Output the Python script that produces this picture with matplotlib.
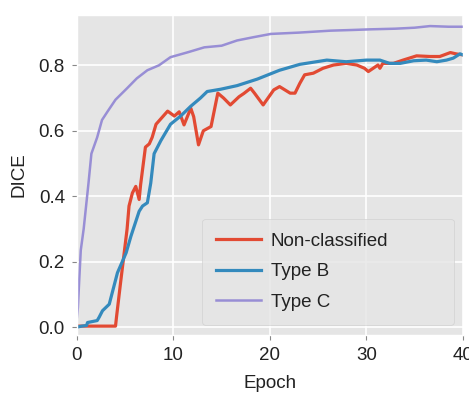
import numpy as np
import matplotlib
matplotlib.use('Agg')
import matplotlib.pyplot as plt

plt.style.use('ggplot')
plt.rcParams['font.family'] = ['Liberation Sans', 'DejaVu Sans']

# Non-classified (red)
nc_epoch = [0, 1, 2, 3, 4.0, 4.1, 4.5, 4.9, 5.2, 5.4, 5.75, 6.1, 6.45, 6.6, 7.1, 7.5,
            7.8, 8.2, 8.8, 9.4, 10.1, 10.6, 11.1, 11.8, 12.1, 12.6, 13.1, 13.9, 14.6,
            15.2, 15.9, 16.8, 17.3, 18.0, 18.4, 19.3, 20.4, 21.0, 22.1, 22.6, 23.1,
            23.6, 24.5, 25.5, 26.6, 27.9, 29.0, 29.8, 30.2, 30.7, 31.2, 31.4, 31.7,
            32.8, 33.8, 35.2, 36.6, 37.6, 38.7, 39.3, 40]
nc_dice = [0.003, 0.003, 0.003, 0.003, 0.003, 0.03, 0.13, 0.227, 0.30, 0.37, 0.41, 0.43,
           0.39, 0.435, 0.55, 0.56, 0.58, 0.62, 0.64, 0.66, 0.645, 0.658, 0.618, 0.669,
           0.643, 0.557, 0.60, 0.613, 0.715, 0.70, 0.679, 0.704, 0.714, 0.73, 0.715,
           0.679, 0.725, 0.735, 0.715, 0.715, 0.745, 0.771, 0.776, 0.791, 0.801, 0.806,
           0.801, 0.791, 0.781, 0.791, 0.801, 0.791, 0.806, 0.806, 0.816, 0.829, 0.827,
           0.827, 0.839, 0.835, 0.832]

# Type B (blue)
tb_epoch = [0, 0.5, 1.0, 1.1, 2.1, 2.3, 2.65, 3.35, 4.2, 5.1, 5.6, 6.45, 6.8, 7.3, 7.65,
            8.0, 8.7, 9.7, 10.75, 11.8, 12.8, 13.5, 14.9, 16.6, 18.7, 21.0, 23.1, 25.9,
            27.9, 30.0, 31.4, 32.4, 33.5, 34.9, 36.2, 37.3, 38.3, 39.0, 39.7, 40]
tb_dice = [0.0, 0.003, 0.005, 0.014, 0.02, 0.03, 0.05, 0.07, 0.166, 0.227, 0.278, 0.354,
           0.37, 0.38, 0.44, 0.53, 0.57, 0.62, 0.645, 0.675, 0.70, 0.72, 0.727, 0.738,
           0.758, 0.785, 0.803, 0.816, 0.811, 0.816, 0.816, 0.806, 0.806, 0.814, 0.816,
           0.811, 0.816, 0.822, 0.835, 0.832]

# Type C (purple)
tc_epoch = [0, 0.1, 0.25, 0.4, 0.7, 1.2, 1.5, 2.1, 2.6, 3.2, 4.0, 5.2, 6.2, 7.3, 8.5,
            9.7, 11.5, 13.2, 15.0, 16.6, 18.3, 20.1, 23.0, 26.3, 28.5, 30.4, 33.0, 35.0,
            36.6, 38.5, 40]
tc_dice = [0.03, 0.06, 0.15, 0.235, 0.30, 0.44, 0.53, 0.58, 0.633, 0.66, 0.695, 0.73,
           0.76, 0.785, 0.80, 0.825, 0.84, 0.855, 0.86, 0.876, 0.886, 0.896, 0.90, 0.906,
           0.908, 0.91, 0.912, 0.915, 0.92, 0.918, 0.918]

fig = plt.figure(figsize=(4.69, 3.95), dpi=100)
ax = fig.add_axes([0.164, 0.152, 0.823, 0.811])
ax.set_facecolor('#E5E5E5')

ax.plot(nc_epoch, nc_dice, color='#E24A33', lw=2.3, label='Non-classified')
ax.plot(tb_epoch, tb_dice, color='#348ABD', lw=2.3, label='Type B')
ax.plot(tc_epoch, tc_dice, color='#988ED5', lw=1.8, label='Type C')

ax.set_xlim(0, 40)
ax.set_ylim(-0.024, 0.955)
ax.set_xticks([0, 10, 20, 30, 40])
ax.set_yticks([0.0, 0.2, 0.4, 0.6, 0.8])
ax.set_yticklabels(['0.0', '0.2', '0.4', '0.6', '0.8'])
ax.grid(True, color='white', lw=1.2)
ax.tick_params(labelsize=13.5, colors='#888888', labelcolor='#222222',
               length=3.6, pad=5)

ax.set_xlabel('Epoch', fontsize=13.5, color='#222222', labelpad=8)
ax.set_ylabel('DICE', fontsize=13.5, color='#222222', labelpad=8)

leg = ax.legend(loc='lower left', bbox_to_anchor=(0.325, 0.031, 0.652, 0.33),
                mode='expand', borderaxespad=0, fontsize=13.5, frameon=True,
                handlelength=2.4, handletextpad=0.5, labelspacing=0.72, borderpad=0.75)
leg.get_frame().set_facecolor('#E5E5E5')
leg.get_frame().set_edgecolor('#CCCCCC')
for t in leg.get_texts():
    t.set_color('#222222')

plt.savefig('out.png', dpi=100)
